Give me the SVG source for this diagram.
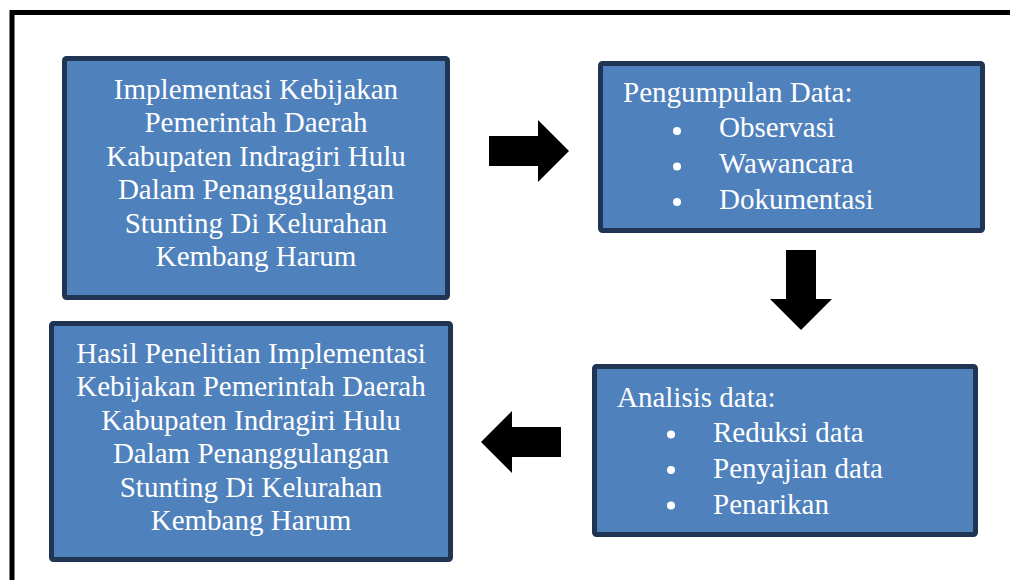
<svg xmlns="http://www.w3.org/2000/svg" width="1010" height="580" viewBox="0 0 1010 580">
<style>
.box{fill:#4F81BD;stroke:#1F3553;stroke-width:5}
.t{font-family:"Liberation Serif","Times New Roman",serif;font-size:29px;fill:#FFFFFF}
.c{text-anchor:middle}
.b{fill:#FFFFFF}
.arr{fill:#000000}
</style>
<rect width="1010" height="580" fill="#FFFFFF"/>
<path d="M12 580 V12.5 H1010" fill="none" stroke="#000000" stroke-width="5"/>
<g id="node-implementasi">
<rect class="box" x="64.5" y="58.5" width="383" height="239" rx="2"/>
<text class="t c" x="256" y="98.5">Implementasi Kebijakan</text>
<text class="t c" x="256" y="132">Pemerintah Daerah</text>
<text class="t c" x="256" y="165.5">Kabupaten Indragiri Hulu</text>
<text class="t c" x="256" y="199">Dalam Penanggulangan</text>
<text class="t c" x="256" y="232.5">Stunting Di Kelurahan</text>
<text class="t c" x="256" y="266">Kembang Harum</text>
</g>
<g id="node-pengumpulan">
<rect class="box" x="600.5" y="63.5" width="382" height="167" rx="2"/>
<text class="t" x="623" y="101.7">Pengumpulan Data:</text>
<circle class="b" cx="677" cy="131" r="4"/>
<circle class="b" cx="677" cy="166.5" r="4"/>
<circle class="b" cx="677" cy="202" r="4"/>
<text class="t" x="719" y="137.3">Observasi</text>
<text class="t" x="719" y="173">Wawancara</text>
<text class="t" x="719" y="208.5">Dokumentasi</text>
</g>
<g id="node-analisis">
<rect class="box" x="594.5" y="366.5" width="381" height="168" rx="2"/>
<text class="t" x="617" y="407">Analisis data:</text>
<circle class="b" cx="671" cy="434.5" r="4"/>
<circle class="b" cx="671" cy="470" r="4"/>
<circle class="b" cx="671" cy="505.5" r="4"/>
<text class="t" x="713" y="441.7">Reduksi data</text>
<text class="t" x="713" y="477.7">Penyajian data</text>
<text class="t" x="713" y="514">Penarikan</text>
</g>
<g id="node-hasil">
<rect class="box" x="51.5" y="323.5" width="399" height="236" rx="2"/>
<text class="t c" x="251" y="362.5">Hasil Penelitian Implementasi</text>
<text class="t c" x="251" y="396">Kebijakan Pemerintah Daerah</text>
<text class="t c" x="251" y="429.5">Kabupaten Indragiri Hulu</text>
<text class="t c" x="251" y="463">Dalam Penanggulangan</text>
<text class="t c" x="251" y="496.5">Stunting Di Kelurahan</text>
<text class="t c" x="251" y="530">Kembang Harum</text>
</g>
<g id="connectors">
<polygon class="arr" points="489,136 538,136 538,120 569,151 538,182 538,166 489,166"/>
<polygon class="arr" points="786,250 816,250 816,299 832,299 801,330 770,299 786,299"/>
<polygon class="arr" points="561,427 512,427 512,411 481,442 512,473 512,457 561,457"/>
</g>
</svg>
